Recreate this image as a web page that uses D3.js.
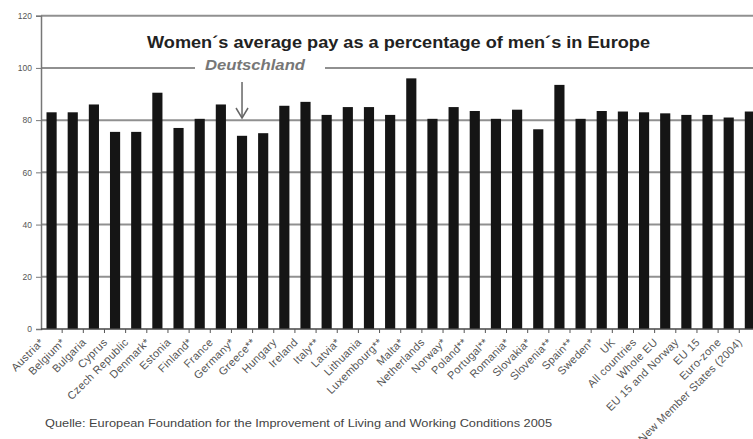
<!DOCTYPE html>
<html>
<head>
<meta charset="utf-8">
<script src="https://cdn.jsdelivr.net/npm/d3@7.9.0/dist/d3.min.js"></script>
<style>
  body { margin: 0; background: #fff; }
  svg { display: block; font-family: "Liberation Sans", Arial, sans-serif; }
</style>
</head>
<body>
<svg width="753" height="439"></svg>
<script>
const countries = [
  "Austria*", "Belgium*", "Bulgaria", "Cyprus", "Czech Republic", "Denmark*", "Estonia",
  "Finland*", "France", "Germany*", "Greece**", "Hungary", "Ireland", "Italy**", "Latvia*",
  "Lithuania", "Luxembourg**", "Malta*", "Netherlands", "Norway*", "Poland**", "Portugal**",
  "Romania*", "Slovakia*", "Slovenia**", "Spain**", "Sweden*", "UK", "All countries",
  "Whole EU", "EU 15 and Norway", "EU 15", "Euro-zone", "New Member States (2004)"
];
const payRatio = [
  83, 83, 86, 75.5, 75.5, 90.5, 77,
  80.5, 86, 74, 75, 85.5, 87, 82, 85,
  85, 82, 96, 80.5, 85, 83.5, 80.5,
  84, 76.5, 93.5, 80.5, 83.5, 83.3, 83,
  82.6, 82, 82, 81, 83.3
];
const yTicks = [0, 20, 40, 60, 80, 100, 120];
const highlight = "Germany*";

const svg = d3.select("svg");
const plotLeft = 41, plotBottom = 329, plotTop = 15.7;

const x = d3.scaleBand().domain(countries).range([plotLeft, plotLeft + 21.16 * countries.length]).paddingInner(0.52).paddingOuter(0.26);
const y = d3.scaleLinear().domain([0, 120]).range([plotBottom, plotTop]);

// gridlines (the 100 line is broken by the "Deutschland" note)
const grid = svg.append("g");
yTicks.filter(t => t > 0).forEach(t => {
  if (t === 100) {
    grid.append("line").attr("x1", plotLeft).attr("x2", 195).attr("y1", y(t)).attr("y2", y(t));
    grid.append("line").attr("x1", 325).attr("x2", 753).attr("y1", y(t)).attr("y2", y(t));
  } else {
    grid.append("line").attr("x1", plotLeft).attr("x2", 753).attr("y1", y(t)).attr("y2", y(t));
  }
});
grid.selectAll("line").attr("stroke", "#909090").attr("stroke-width", 2);

// bars
svg.append("g").selectAll("rect")
  .data(countries)
  .join("rect")
  .attr("x", d => x(d))
  .attr("width", x.bandwidth())
  .attr("y", (d, i) => y(payRatio[i]))
  .attr("height", (d, i) => plotBottom - y(payRatio[i]))
  .attr("fill", "#151515");

// y axis
const yAxis = svg.append("g")
  .attr("transform", `translate(${plotLeft},0)`)
  .call(d3.axisLeft(y).tickValues(yTicks).tickSize(5).tickPadding(4));
yAxis.select(".domain").attr("stroke", "#777").attr("stroke-width", 1.5);
yAxis.selectAll(".tick line").attr("stroke", "#777");
yAxis.selectAll("text").attr("font-size", 8.5).attr("fill", "#555");

// x axis with ticks between categories
svg.append("line").attr("x1", plotLeft).attr("x2", 753).attr("y1", plotBottom).attr("y2", plotBottom)
  .attr("stroke", "#444").attr("stroke-width", 1.5);
svg.append("g").selectAll("line")
  .data(countries)
  .join("line")
  .attr("x1", d => x(d) + x.bandwidth() + x.step() * x.paddingInner() / 2)
  .attr("x2", d => x(d) + x.bandwidth() + x.step() * x.paddingInner() / 2)
  .attr("y1", plotBottom).attr("y2", plotBottom + 4)
  .attr("stroke", "#555");

svg.append("g").selectAll("text")
  .data(countries)
  .join("text")
  .attr("transform", d => `translate(${x(d) + x.bandwidth() / 2 - 7},${plotBottom + 14}) rotate(-45)`)
  .attr("text-anchor", "end")
  .attr("font-size", 11)
  .attr("letter-spacing", 0.3)
  .attr("fill", "#555")
  .text(d => d);

// title and note
svg.append("text")
  .attr("x", 147).attr("y", 48)
  .attr("textLength", 503).attr("lengthAdjust", "spacingAndGlyphs")
  .attr("font-size", 16.5).attr("font-weight", "bold").attr("fill", "#222")
  .text("Women´s average pay as a percentage of men´s in Europe");

svg.append("text")
  .attr("x", 205).attr("y", 70)
  .attr("textLength", 100).attr("lengthAdjust", "spacingAndGlyphs")
  .attr("font-size", 14).attr("font-weight", "bold").attr("font-style", "italic").attr("fill", "#777")
  .text("Deutschland");

// arrow pointing at Germany
const ax = x(highlight) + x.bandwidth() / 2;
svg.append("line").attr("x1", ax).attr("x2", ax).attr("y1", 82).attr("y2", 118)
  .attr("stroke", "#666").attr("stroke-width", 1.5);
svg.append("path")
  .attr("d", `M${ax - 6},${108} L${ax},${118} L${ax + 6},${108}`)
  .attr("fill", "none").attr("stroke", "#666").attr("stroke-width", 1.5);

svg.append("text")
  .attr("x", 45).attr("y", 427)
  .attr("textLength", 507).attr("lengthAdjust", "spacingAndGlyphs")
  .attr("font-size", 11.5).attr("fill", "#444")
  .text("Quelle: European Foundation for the Improvement of Living and Working Conditions 2005");
</script>
</body>
</html>
